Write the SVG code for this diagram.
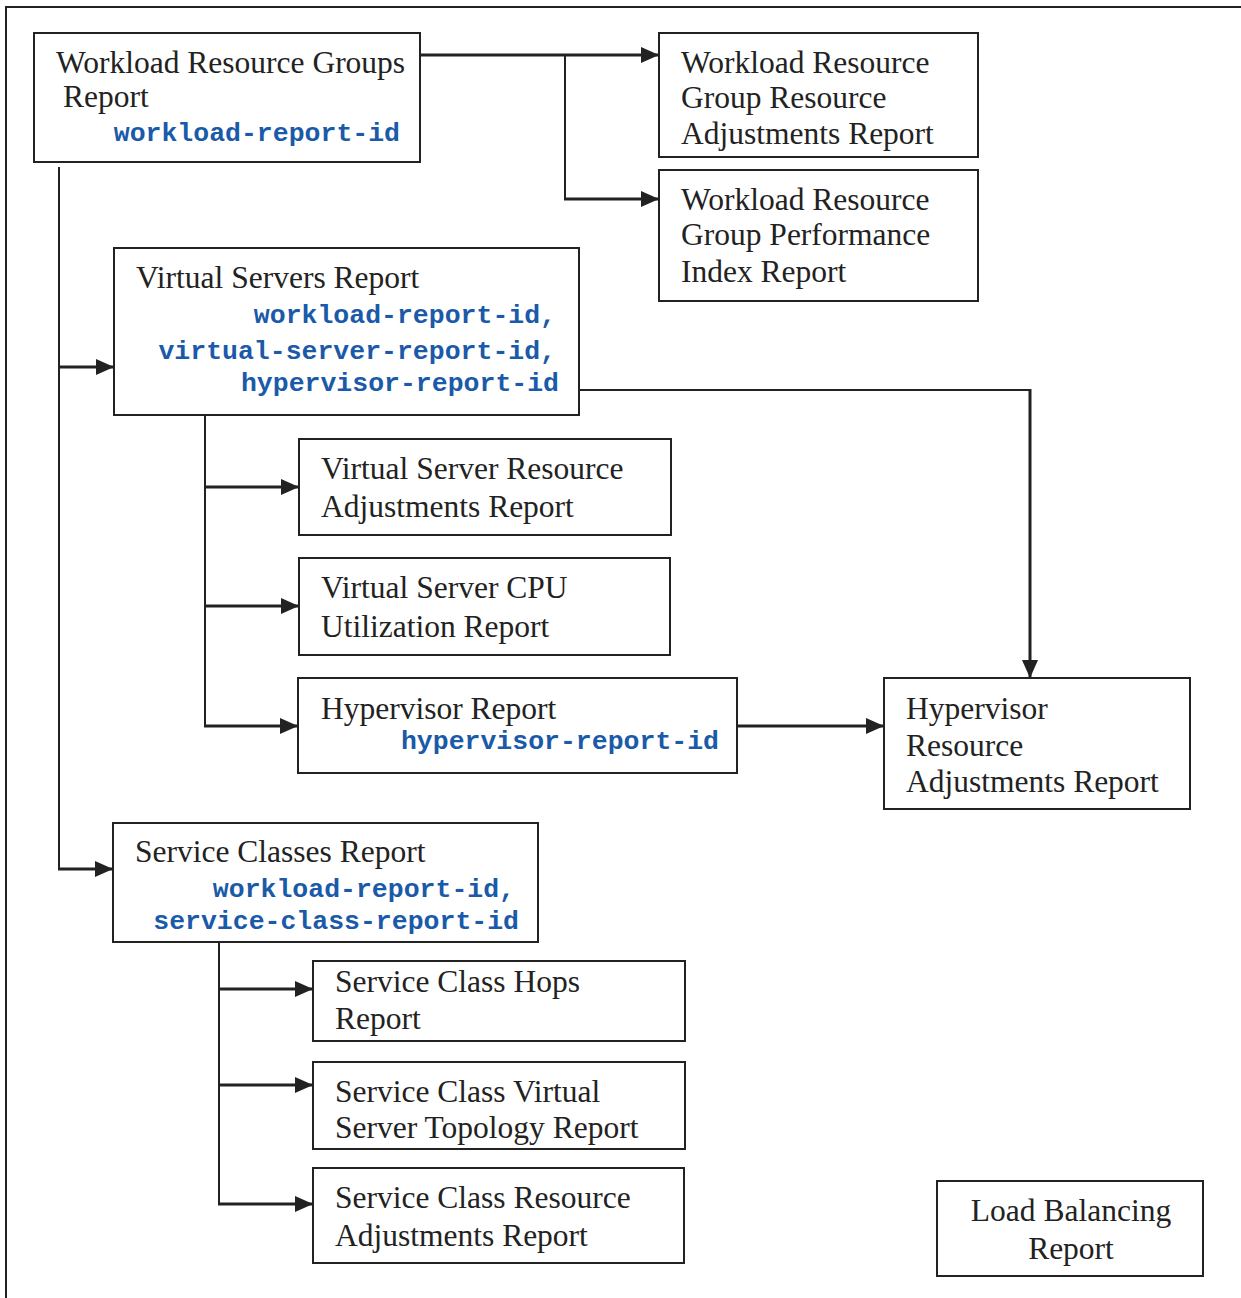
<svg xmlns="http://www.w3.org/2000/svg" width="1241" height="1298" viewBox="0 0 1241 1298">
<defs>
<style>
.box{fill:#fff;stroke:#222;stroke-width:2}
.t{font-family:"Liberation Serif","Times New Roman",serif;font-size:31.5px;fill:#222}
.m{font-family:"Liberation Mono","Courier New",monospace;font-size:26.5px;font-weight:bold;fill:#1a5aa8}
.e{text-anchor:end}
.c{text-anchor:middle}
.ln{fill:none;stroke:#222;stroke-width:2}
.ar{fill:none;stroke:#222;stroke-width:3}
</style>
<marker id="ah" viewBox="0 0 18 16" refX="18" refY="8" markerWidth="18" markerHeight="16" markerUnits="userSpaceOnUse" orient="auto">
<path d="M0,0 L18,8 L0,16 Z" fill="#222"/>
</marker>
</defs>
<rect width="1241" height="1298" fill="#fff"/>
<path d="M6,1298 V7 H1241" fill="none" stroke="#222" stroke-width="2"/>
<g id="connectors">
<path class="ar" d="M420,55 H659" marker-end="url(#ah)"/>
<path class="ln" d="M565,55 V199"/>
<path class="ar" d="M564,199 H659" marker-end="url(#ah)"/>
<path class="ln" d="M59,167 V869"/>
<path class="ar" d="M58,367 H114" marker-end="url(#ah)"/>
<path class="ar" d="M58,869 H113" marker-end="url(#ah)"/>
<path class="ln" d="M205,415 V726"/>
<path class="ar" d="M204,487 H299" marker-end="url(#ah)"/>
<path class="ar" d="M204,606 H299" marker-end="url(#ah)"/>
<path class="ar" d="M204,726 H298" marker-end="url(#ah)"/>
<path class="ln" d="M579,390 H1030"/>
<path class="ar" d="M1030,389 V678" marker-end="url(#ah)"/>
<path class="ar" d="M737,726 H884" marker-end="url(#ah)"/>
<path class="ln" d="M219,942 V1204"/>
<path class="ar" d="M218,989 H313" marker-end="url(#ah)"/>
<path class="ar" d="M218,1085 H313" marker-end="url(#ah)"/>
<path class="ar" d="M218,1204 H313" marker-end="url(#ah)"/>
</g>
<g id="n1"><rect class="box" x="34" y="33" width="386" height="129"/>
<text class="t" x="56" y="73">Workload Resource Groups</text>
<text class="t" x="63" y="107">Report</text>
<text class="m e" x="400" y="141">workload-report-id</text></g>
<g id="n2"><rect class="box" x="659" y="33" width="319" height="124"/>
<text class="t" x="681" y="73">Workload Resource</text>
<text class="t" x="681" y="108">Group Resource</text>
<text class="t" x="681" y="144">Adjustments Report</text></g>
<g id="n3"><rect class="box" x="659" y="170" width="319" height="131"/>
<text class="t" x="681" y="210">Workload Resource</text>
<text class="t" x="681" y="245">Group Performance</text>
<text class="t" x="681" y="282">Index Report</text></g>
<g id="n4"><rect class="box" x="114" y="248" width="465" height="167"/>
<text class="t" x="136" y="288">Virtual Servers Report</text>
<text class="m e" x="556" y="323">workload-report-id,</text>
<text class="m e" x="556" y="359">virtual-server-report-id,</text>
<text class="m e" x="559" y="391">hypervisor-report-id</text></g>
<g id="n5"><rect class="box" x="299" y="439" width="372" height="96"/>
<text class="t" x="321" y="479">Virtual Server Resource</text>
<text class="t" x="321" y="517">Adjustments Report</text></g>
<g id="n6"><rect class="box" x="299" y="558" width="371" height="97"/>
<text class="t" x="321" y="598">Virtual Server CPU</text>
<text class="t" x="321" y="637">Utilization Report</text></g>
<g id="n7"><rect class="box" x="298" y="678" width="439" height="95"/>
<text class="t" x="321" y="719">Hypervisor Report</text>
<text class="m e" x="719" y="749">hypervisor-report-id</text></g>
<g id="n8"><rect class="box" x="884" y="678" width="306" height="131"/>
<text class="t" x="906" y="719">Hypervisor</text>
<text class="t" x="906" y="756">Resource</text>
<text class="t" x="906" y="792">Adjustments Report</text></g>
<g id="n9"><rect class="box" x="113" y="823" width="425" height="119"/>
<text class="t" x="135" y="862">Service Classes Report</text>
<text class="m e" x="515" y="897">workload-report-id,</text>
<text class="m e" x="519" y="929">service-class-report-id</text></g>
<g id="n10"><rect class="box" x="313" y="961" width="372" height="80"/>
<text class="t" x="335" y="992">Service Class Hops</text>
<text class="t" x="335" y="1029">Report</text></g>
<g id="n11"><rect class="box" x="313" y="1062" width="372" height="87"/>
<text class="t" x="335" y="1102">Service Class Virtual</text>
<text class="t" x="335" y="1138">Server Topology Report</text></g>
<g id="n12"><rect class="box" x="313" y="1168" width="371" height="95"/>
<text class="t" x="335" y="1208">Service Class Resource</text>
<text class="t" x="335" y="1246">Adjustments Report</text></g>
<g id="n13"><rect class="box" x="937" y="1181" width="266" height="95"/>
<text class="t c" x="1071" y="1221">Load Balancing</text>
<text class="t c" x="1071" y="1259">Report</text></g>
</svg>
